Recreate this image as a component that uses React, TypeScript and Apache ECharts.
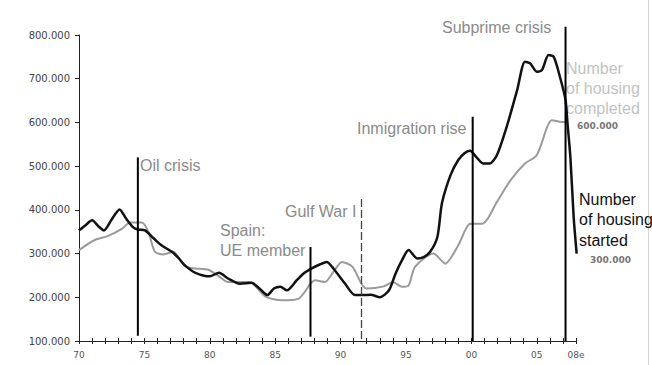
import React, { useEffect, useRef } from "react";
import * as echarts from "echarts";

// Number of housing started (black)
const startedYears = [1970.0, 1970.5, 1971.0, 1971.5, 1971.9, 1972.5, 1973.1, 1973.6, 1974.15, 1974.5, 1975.05, 1975.7, 1976.3, 1977.1, 1977.6, 1978.1, 1978.9, 1980.0, 1980.7, 1981.4, 1982.3, 1983.2, 1983.8, 1984.4, 1984.9, 1985.4, 1985.9, 1986.65, 1987.2, 1987.8, 1988.4, 1988.95, 1989.45, 1990.35, 1991.1, 1991.75, 1992.3, 1993.0, 1993.7, 1994.2, 1994.7, 1995.2, 1995.85, 1996.35, 1996.85, 1997.4, 1997.75, 1998.4, 1999.0, 1999.5, 1999.9, 2000.4, 2000.9, 2001.4, 2001.95, 2002.7, 2003.5, 2004.1, 2004.5, 2005.0, 2005.4, 2005.9, 2006.3, 2006.8, 2007.2, 2007.35, 2007.57, 2007.82, 2008.05];
const startedValues = [353000, 365000, 376000, 362000, 353000, 378000, 401000, 380000, 360000, 355000, 353000, 335000, 319000, 304000, 290000, 273000, 256000, 248000, 256000, 243000, 231000, 233000, 220000, 205000, 220000, 224000, 216000, 239000, 255000, 266000, 275000, 281000, 266000, 231000, 205000, 205000, 206000, 200000, 216000, 254000, 285000, 308000, 289000, 292000, 304000, 338000, 415000, 479000, 514000, 530000, 535000, 520000, 506000, 506000, 525000, 590000, 674000, 739000, 735000, 716000, 720000, 754000, 750000, 701000, 651000, 598000, 521000, 384000, 300000];

// Number of housing completed (grey)
const completedYears = [1970.0, 1971.2, 1972.2, 1973.3, 1973.9, 1974.8, 1975.3, 1975.8, 1976.45, 1977.2, 1978.1, 1978.9, 1979.9, 1980.7, 1981.4, 1983.0, 1984.3, 1985.5, 1986.8, 1987.7, 1988.05, 1988.8, 1989.45, 1990.1, 1990.9, 1991.6, 1992.0, 1993.3, 1994.0, 1994.7, 1995.2, 1995.7, 1997.1, 1998.0, 1999.0, 1999.9, 2000.9, 2001.95, 2003.0, 2004.1, 2005.0, 2005.8, 2006.15, 2006.9, 2007.3];
const completedValues = [308000, 331000, 340000, 357000, 371000, 371000, 350000, 304000, 298000, 304000, 271000, 266000, 263000, 248000, 235000, 235000, 201000, 193000, 197000, 231000, 239000, 235000, 258000, 281000, 270000, 231000, 220000, 225000, 235000, 224000, 227000, 270000, 300000, 277000, 319000, 368000, 369000, 418000, 468000, 506000, 525000, 590000, 605000, 601000, 601000];

// Event markers
const eventNames = ["Oil crisis", "Spain: UE member", "Gulf War I", "Inmigration rise", "Subprime crisis"];
const eventYears = [1974.5, 1987.7, 1991.6, 2000.1, 2007.2];
const eventTops = [520000, 315000, 425000, 613000, 819000];
const eventBottoms = [112000, 110000, 100000, 100000, 100000];
const eventDashed = [false, false, true, false, false];

const yTicks = { min: 100000, max: 800000, interval: 100000 };
const xRange = { min: 1970, max: 2008 };

const annFont = "'Liberation Sans', Arial, sans-serif";
const axisFont = "'DejaVu Sans', Verdana, sans-serif";

export default function App() {
  const ref = useRef<HTMLDivElement>(null);
  useEffect(() => {
    if (!ref.current) return;
    const chart = echarts.init(ref.current, undefined, { renderer: "svg" });
    const started = startedYears.map((y, i) => [y, startedValues[i]]);
    const completed = completedYears.map((y, i) => [y, completedValues[i]]);
    const annText = (text: string, x: number, y: number, fill: string, size = 16, lh = 20) => ({
      type: "text",
      x,
      y,
      silent: true,
      style: { text, fill, font: `${size}px ${annFont}`, lineHeight: lh, verticalAlign: "top" },
    });
    chart.setOption({
      animation: false,
      grid: { left: 79, right: 76, top: 35, bottom: 24 },
      xAxis: [
        {
          type: "value",
          position: "bottom",
          min: xRange.min,
          max: xRange.max,
          interval: 1,
          splitLine: { show: false },
          axisLine: { show: true, lineStyle: { color: "#222", width: 1 } },
          axisTick: { show: true, inside: false, length: 3, lineStyle: { color: "#222" } },
          axisLabel: {
            margin: 9,
            color: "#555",
            fontFamily: axisFont,
            fontSize: 9,
            formatter: (v: number) => {
              if (v === 2008) return "08e";
              if (v % 5 === 0) return String(v % 100).padStart(2, "0");
              return "";
            },
          },
        },
        {
          type: "value",
          position: "bottom",
          min: xRange.min,
          max: xRange.max,
          interval: 1,
          splitLine: { show: false },
          axisLine: { show: false },
          axisTick: { show: true, inside: true, length: 3, lineStyle: { color: "#222" } },
          axisLabel: { show: false },
        },
      ],
      yAxis: {
        type: "value",
        min: yTicks.min,
        max: yTicks.max,
        interval: yTicks.interval,
        splitLine: { show: false },
        axisLine: { show: true, lineStyle: { color: "#222", width: 1 } },
        axisTick: { show: true, inside: false, length: 4, lineStyle: { color: "#222" } },
        axisLabel: {
          margin: 9,
          color: "#444",
          fontFamily: axisFont,
          fontSize: 10,
          formatter: (v: number) => `${Math.round(v / 1000)}.000`,
        },
      },
      series: [
        {
          name: "Number of housing completed",
          type: "line",
          data: completed,
          smooth: 0.25,
          showSymbol: false,
          lineStyle: { color: "#9a9a9a", width: 2 },
          z: 2,
        },
        {
          name: "Number of housing started",
          type: "line",
          data: started,
          smooth: 0.25,
          showSymbol: false,
          clip: false,
          lineStyle: { color: "#111", width: 2.5 },
          z: 3,
        },
      ],
    });

    // Event lines positioned through the chart's own scales
    const eventLines = eventYears.map((yr, i) => {
      const top = chart.convertToPixel({ gridIndex: 0 }, [yr, eventTops[i]]) as number[];
      const bot = chart.convertToPixel({ gridIndex: 0 }, [yr, eventBottoms[i]]) as number[];
      return {
        type: "line",
        silent: true,
        z: 10,
        name: eventNames[i],
        shape: { x1: top[0], y1: top[1], x2: bot[0], y2: bot[1] },
        style: eventDashed[i]
          ? { stroke: "#444", lineWidth: 1.3, lineDash: [8, 3] }
          : { stroke: "#000", lineWidth: 2 },
      };
    });

    chart.setOption({
      graphic: [
        { type: "line", silent: true, shape: { x1: 648.5, y1: 0, x2: 648.5, y2: 365 }, style: { stroke: "#d4d4d4", lineWidth: 1 } },
        ...eventLines,
        annText("Oil crisis", 140, 155, "#8a8a8a"),
        annText("Spain:\nUE member", 220, 220, "#8a8a8a"),
        annText("Gulf War I", 285, 201, "#8a8a8a"),
        annText("Inmigration rise", 357, 118, "#8a8a8a"),
        annText("Subprime crisis", 442, 17, "#8a8a8a"),
        annText("Number\nof housing\ncompleted", 566, 58, "#c2c2c2"),
        {
          type: "text", x: 577, y: 126, silent: true,
          style: { text: "600.000", fill: "#777", font: `bold 9px ${axisFont}`, verticalAlign: "middle" },
        },
        annText("Number\nof housing\nstarted", 579, 189, "#111", 16, 20.5),
        {
          type: "text", x: 590, y: 260, silent: true,
          style: { text: "300.000", fill: "#777", font: `bold 9px ${axisFont}`, verticalAlign: "middle" },
        },
      ],
    });
    return () => chart.dispose();
  }, []);
  return <div ref={ref} style={{ position: "fixed", left: 0, top: 0, width: 652, height: 365, background: "#fff" }} />;
}
